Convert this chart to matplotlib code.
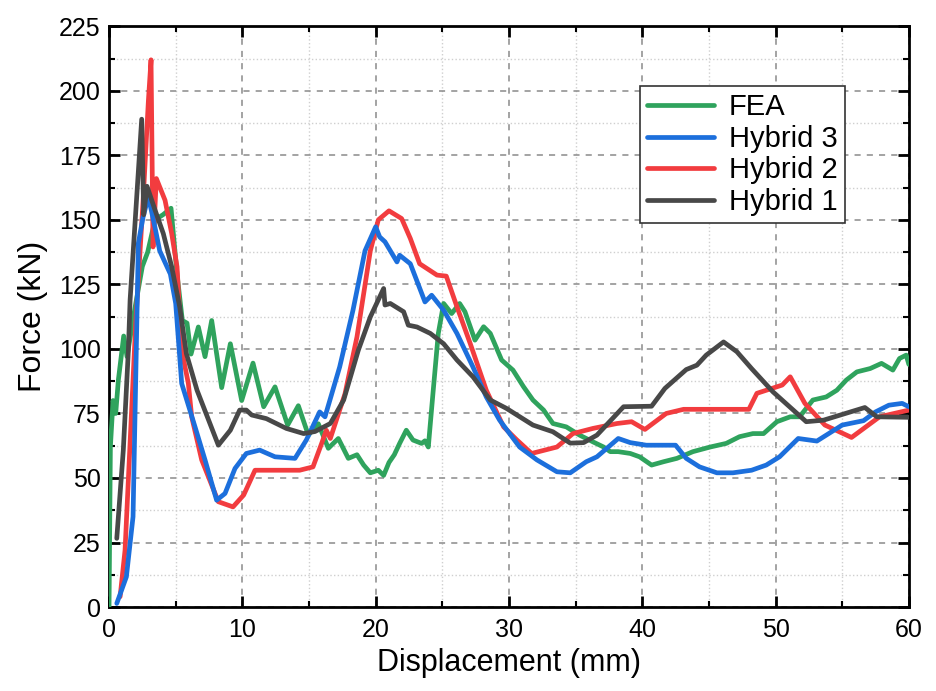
import numpy as np
import matplotlib.pyplot as plt
from matplotlib.ticker import MultipleLocator

plt.rcParams['font.family'] = ['Liberation Sans', 'DejaVu Sans']

# FEA
fea_x = [0, 0.1, 0.3, 0.5, 0.7, 1.1, 1.35, 1.95, 2.5, 2.9, 3.45, 4.05, 4.65, 5.1, 5.5,
         5.85, 6.15, 6.7, 7.2, 7.7, 8.45, 9.1, 9.95, 10.8, 11.6, 12.45, 13.4, 14.2,
         14.95, 15.7, 16.45, 17.2, 17.95, 18.6, 19.1, 19.6, 20.2, 20.6, 21.0, 21.4,
         21.8, 22.3, 22.8, 23.45, 23.7, 23.95, 24.3, 24.7, 25.1, 25.7, 26.3, 26.7,
         27.45, 28.1, 28.6, 29.45, 30.3, 31.1, 31.8, 32.6, 33.3, 34.3, 35.3, 36.3,
         37.1, 37.6, 38.2, 39.1, 39.8, 40.7, 41.6, 42.6, 43.8, 45.1, 46.3, 47.3,
         48.3, 49.1, 50.1, 51.1, 51.8, 52.8, 53.8, 54.6, 55.3, 56.1, 57.1, 57.95,
         58.8, 59.3, 59.8, 60]
fea_y = [0, 62, 80, 75, 88, 105, 97, 116, 132, 137.5, 150, 152, 154.5, 129, 111,
         110, 98, 108.5, 97, 111, 85, 102, 80, 94.5, 77.6, 85.3, 70.5, 78,
         66.6, 71, 61.5, 65.3, 57.6, 59, 55, 52, 53, 51, 56, 59,
         63.4, 68.5, 64.7, 63.4, 64.4, 62, 82.8, 106, 117.6, 113.7, 117.6, 114.4,
         103.4, 108.6, 106, 95.7, 91.8, 85.3, 80.2, 76.3, 71.1, 69.8, 66.6, 64,
         62, 60.2, 60.2, 59.5, 58.2, 55, 56.3, 57.6, 60.2, 62, 63.4, 66,
         67.2, 67.2, 71.8, 73.7, 73.7, 80.2, 81.4, 84, 87.9, 91.1, 92.4, 94.4,
         91.8, 96.3, 97.6, 94]

# Hybrid 3
h3_x = [0.58, 1.3, 1.8, 2.2, 2.55, 2.95, 3.45, 3.8, 4.6, 5.0, 5.3, 5.45, 6.45, 7.2,
        8.07, 8.7, 9.45, 10.3, 11.3, 12.45, 13.95, 14.8, 15.8, 16.2, 17.3, 18.3,
        19.2, 20.0, 20.3, 20.7, 21.6, 21.8, 22.6, 23.7, 24.2, 25.1, 26.1, 27.3,
        28.3, 29.3, 30.8, 32.1, 33.6, 34.6, 35.8, 36.6, 38.2, 39.1, 40.3, 42.5,
        43.3, 44.3, 45.6, 46.8, 48.2, 49.3, 50.3, 51.7, 53.1, 55.0, 56.6, 57.5,
        58.5, 59.5, 60]
h3_y = [1.4, 11.7, 35, 141, 151, 159, 147, 138, 129, 117.6, 97, 86.6, 69.8, 57,
        41.4, 44, 53.7, 59.5, 60.8, 58.2, 57.6, 64.7, 75.6, 73.7, 93, 115,
        138, 147.3, 143.4, 141.5, 133.7, 136.3, 133, 118.2, 120.8, 115, 106, 93,
        81.4, 72.4, 62, 57, 52.4, 52, 56.3, 58.2, 65.3, 63.7, 62.7, 62.7,
        57.6, 54.3, 52, 52, 53, 55, 58.2, 65.3, 64.3, 70.5, 72.2, 75.6,
        78.2, 78.9, 77.6]

# Hybrid 2
h2_x = [0.83, 1.2, 2.0, 2.55, 2.95, 3.15, 3.3, 3.55, 4.2, 4.7, 5.1, 5.45, 5.95,
        6.2, 6.95, 8.2, 9.3, 10.1, 10.95, 12.3, 14.3, 15.3, 15.95, 16.3, 16.6,
        17.7, 18.6, 19.6, 20.2, 21.0, 21.95, 22.6, 23.3, 24.6, 25.3, 26.1, 27.1,
        28.3, 29.6, 30.6, 31.7, 33.6, 34.8, 36.3, 38.1, 39.2, 40.2, 41.8, 43.1,
        48.0, 48.6, 50.5, 51.1, 52.2, 53.7, 55.7, 57.8, 60]
h2_y = [4, 22, 110, 157, 196, 212, 139.5, 166, 157.6, 144.7, 131.8, 99.5, 86.6,
        73.7, 57, 40.8, 38.8, 43.4, 53, 53, 53, 54.3, 63.4, 68.5, 65.3,
        82.6, 104.7, 138, 150, 153.5, 150.5, 142.8, 133, 128.6, 128.2, 116.3, 102,
        84, 69.8, 64.7, 59.5, 62, 67.2, 69.2, 71.1, 71.8, 68.8, 75, 76.6,
        76.6, 82.8, 86, 89.2, 78.9, 70.5, 65.7, 73.7, 76.3]

# Hybrid 1
h1_x = [0.58, 1.07, 1.45, 1.58, 2.45, 2.6, 2.85, 3.45, 4.07, 4.7, 5.3, 5.8, 6.6,
        8.2, 9.1, 9.8, 10.3, 10.7, 11.8, 13.3, 14.6, 15.45, 16.6, 17.6, 18.7,
        19.6, 20.6, 20.7, 21.1, 22.1, 22.45, 23.1, 24.1, 25.1, 26.1, 27.3, 28.6,
        29.8, 31.8, 33.3, 34.6, 35.6, 36.6, 38.6, 40.7, 41.7, 43.3, 44.1, 44.8,
        46.1, 47.1, 48.2, 49.8, 52.3, 53.6, 56.7, 57.6, 60]
h1_y = [26.6, 60.8, 99.5, 119, 189, 152, 163, 153.8, 144.7, 131.8, 116.3, 98.2, 84,
        62.7, 68.5, 76.3, 76.3, 74.4, 73, 69.2, 67.2, 68, 71.1, 80.2, 99.5,
        112.4, 123.4, 117, 117.6, 114.4, 109.2, 108.5, 106, 102, 95.7, 89.2, 80.2,
        77, 70.5, 67.9, 63.5, 63.7, 66.6, 77.6, 77.8, 84.7, 92, 93.7, 97.6,
        102.7, 98.9, 92.4, 83.4, 71.8, 72.4, 77.3, 73.7, 73.5]

fig = plt.figure(figsize=(9.36, 6.91), dpi=100)
ax = fig.add_axes([0.1165, 0.1215, 0.8545, 0.8405])

style = dict(lw=3.4, solid_joinstyle='round', solid_capstyle='round')
ax.plot(fea_x, fea_y, color='#2fa35d', label='FEA', zorder=3, **style)
ax.plot(h3_x, h3_y, color='#1c6fdc', label='Hybrid 3', zorder=4, **style)
ax.plot(h2_x, h2_y, color='#f23c3f', label='Hybrid 2', zorder=3, **style)
ax.plot(h1_x, h1_y, color='#484848', label='Hybrid 1', zorder=5, **style)

ax.set_xlim(0, 60)
ax.set_ylim(0, 225)
ax.xaxis.set_major_locator(MultipleLocator(10))
ax.xaxis.set_minor_locator(MultipleLocator(5))
ax.yaxis.set_major_locator(MultipleLocator(25))
ax.yaxis.set_minor_locator(MultipleLocator(12.5))

ax.grid(which='major', linestyle=(0, (4, 4)), color='#8a8a8a', lw=1.1)
ax.grid(which='minor', linestyle=':', color='#cfcfcf', lw=1.0)
ax.set_axisbelow(True)

ax.tick_params(which='both', direction='in', top=True, right=True, labelsize=18)
ax.tick_params(which='major', length=8, width=2)
ax.tick_params(which='minor', length=4, width=1.5)
ax.tick_params(axis='x', pad=8)
ax.tick_params(axis='y', pad=6)
for s in ax.spines.values():
    s.set_linewidth(2)

ax.set_xlabel('Displacement (mm)', fontsize=22, labelpad=4)
ax.set_ylabel('Force (kN)', fontsize=23, labelpad=8)

leg = ax.legend(loc='upper right', bbox_to_anchor=(0.92, 0.897), borderaxespad=0,
                fontsize=21, frameon=True, fancybox=False, edgecolor='#333333',
                framealpha=1, handlelength=2.3, handletextpad=0.5,
                labelspacing=0.12, borderpad=0.25)
leg.get_frame().set_linewidth(1.2)

fig.savefig('out.png', dpi=100)
